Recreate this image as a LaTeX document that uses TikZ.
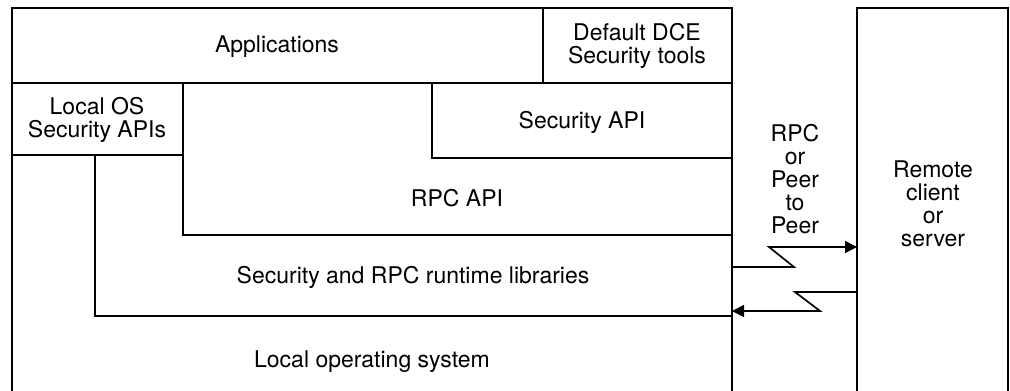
\documentclass[tikz,border=0pt]{standalone}
\usepackage{fontspec}
\setmainfont{TeX Gyre Heros}
\usetikzlibrary{arrows.meta}
\begin{document}
\begin{tikzpicture}[x=1pt,y=-1pt,
  edge/.style={line width=1.7pt,line cap=rect},
  lbl/.style={font=\fontsize{23}{23}\selectfont,align=center,inner sep=0pt},
  link/.style={line width=1.7pt,-{Triangle[length=12pt,width=12pt]}}]
\useasboundingbox (0,0) rectangle (1010,391);
% main stack outline
\draw[edge] (12,391) -- (12,8) -- (732,8) -- (732,391);
\draw[edge] (12,83) -- (732,83);
\draw[edge] (543,8) -- (543,83);
\draw[edge] (12,155) -- (183,155);
\draw[edge] (183,83) -- (183,235) -- (732,235);
\draw[edge] (432,83) -- (432,158) -- (732,158);
\draw[edge] (95,155) -- (95,316) -- (732,316);
% remote box
\draw[edge] (857,391) -- (857,8) -- (1008,8) -- (1008,391);
% labels
\node[lbl] (apps) at (277,47) {Applications};
\node[lbl] (dce) at (637,46) {Default DCE\\Security tools};
\node[lbl] (localos) at (97,120) {Local OS\\Security APIs};
\node[lbl] (secapi) at (582,122) {Security API};
\node[lbl] (rpcapi) at (457,198) {RPC API};
\node[lbl] (runtime) at (413,277) {Security and RPC runtime libraries};
\node[lbl] (os) at (372,362) {Local operating system};
\node[lbl] (proto) at (795,179) {RPC\\or\\Peer\\to\\Peer};
\node[lbl] (remote) at (933,204) {Remote\\client\\or\\server};
% connectors
\coordinate (outA) at (732,267);
\coordinate (inA) at (857,247);
\coordinate (outB) at (857,292);
\coordinate (inB) at (732,311);
\draw[link] (outA) -- (794,267) -- (769,247) -- (inA);
\draw[link] (outB) -- (795,292) -- (820,311) -- (inB);
\end{tikzpicture}
\end{document}
